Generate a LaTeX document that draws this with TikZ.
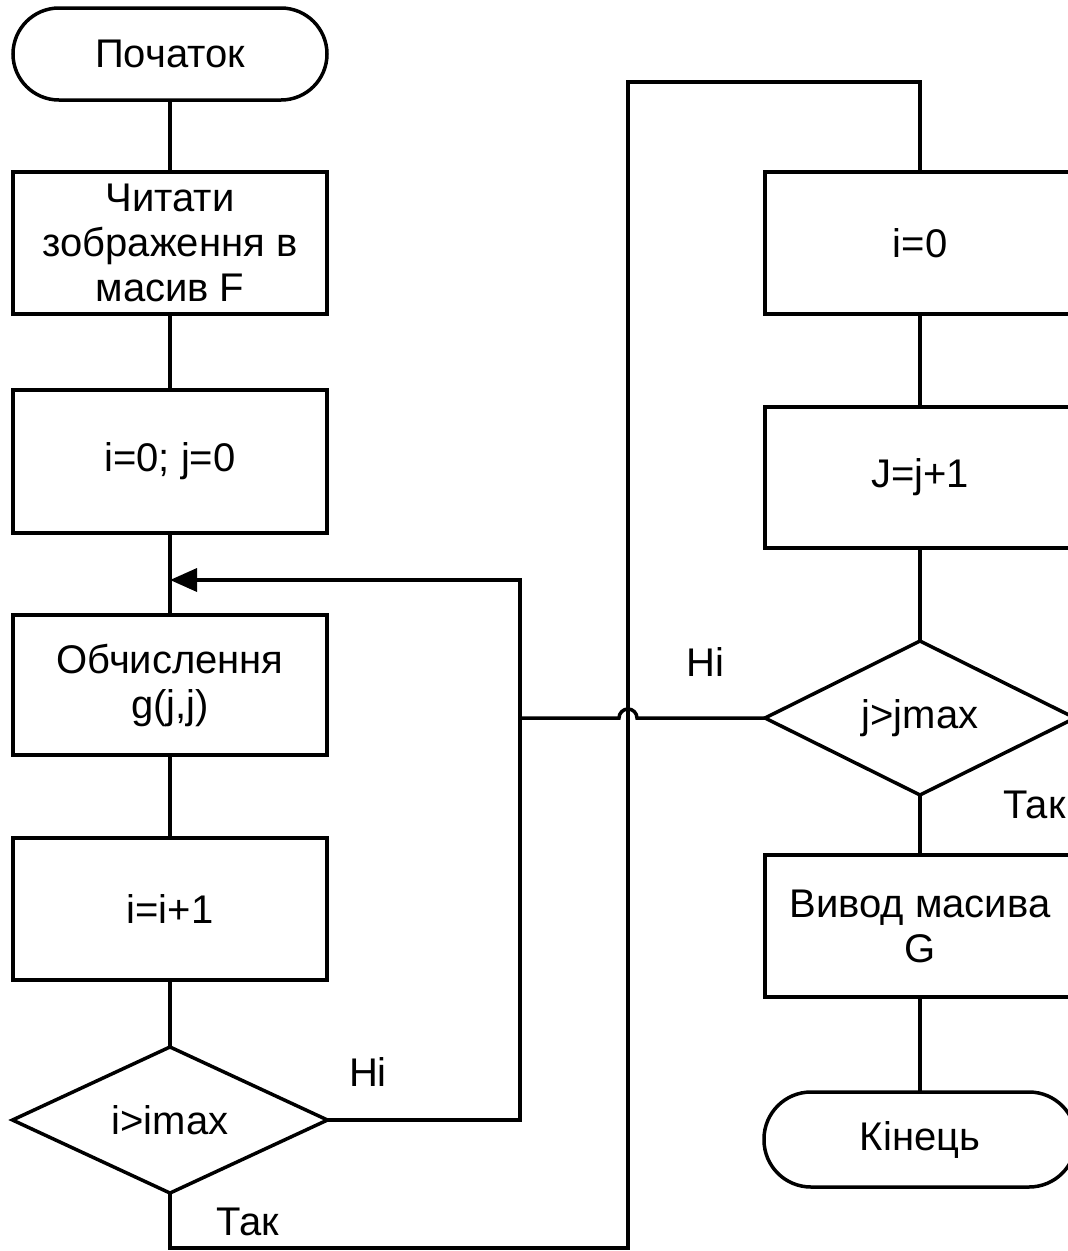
\documentclass[tikz,border=0pt]{standalone}
\usepackage{fontspec}
\setmainfont{Liberation Sans}
\usetikzlibrary{shapes.geometric,arrows.meta}
\tikzset{
  base/.style={draw=black, line width=3.5pt, outer sep=0pt, inner sep=0pt, align=center,
    font=\fontsize{40}{45}\selectfont},
  terminal/.style={base, rectangle, rounded corners=46pt, minimum width=314pt, minimum height=92pt},
  procbox/.style={base, rectangle, minimum width=314pt, minimum height=142pt},
  rprocbox/.style={base, rectangle, minimum width=310pt, minimum height=142pt},
  decision/.style={base, diamond, minimum width=315pt, minimum height=140pt},
  conn/.style={line width=3.5pt, line join=miter},
  arr/.style={conn, -{Triangle[length=27pt,width=23pt]}},
  lbl/.style={font=\fontsize{40}{45}\selectfont, inner sep=0pt}
}
\begin{document}
\begin{tikzpicture}[x=1pt,y=-1pt]
\useasboundingbox (0,0) rectangle (1068,1251);
\clip (0,0) rectangle (1068,1251);
% left column
\node[terminal] (start) at (170,54) {Початок};
\node[procbox] (read) at (170,243) {Читати\\зображення в\\масив F};
\node[procbox, minimum height=143pt] (init) at (170,461.5) {i=0; j=0};
\node[procbox, minimum height=140pt] (calc) at (170,685) {Обчислення\\g(j,j)};
\node[procbox] (inc) at (170,909) {i=i+1};
\node[decision] (dec1) at (170,1120) {i>imax};
% right column
\node[rprocbox] (j0) at (920,243) {i=0};
\node[rprocbox, minimum height=141pt] (jinc) at (920,477.5) {J=j+1};
\node[decision, minimum width=310pt] (dec2) at (920,718) {j>jmax};
\node[rprocbox] (out) at (920,926) {Вивод масива\\G};
\node[terminal, minimum width=312pt, minimum height=95pt, rounded corners=47pt] (fin) at (920,1139.5) {Кінець};
% coordinates
\coordinate (merge) at (170,580);
\coordinate (loopR) at (520,580);
\coordinate (jn) at (520,718);
\coordinate (jumpR) at (637,718);
\coordinate (botL) at (170,1248);
\coordinate (botR) at (628,1248);
\coordinate (topL) at (628,82);
% connectors left
\draw[conn] (start) -- (read);
\draw[conn] (read) -- (init);
\draw[conn] (init) -- (calc);
\draw[conn] (calc) -- (inc);
\draw[conn] (inc) -- (dec1);
\draw[arr] (dec1.east) -| (loopR) -- (merge);
\draw[conn] (dec2.west) -- (jumpR) arc[start angle=0, end angle=180, radius=9pt] -- (jn);
\draw[conn] (dec1.south) -- (botL) -- (botR) -- (topL) -| (j0.north);
% connectors right
\draw[conn] (j0) -- (jinc);
\draw[conn] (jinc) -- (dec2);
\draw[conn] (dec2) -- (out);
\draw[conn] (out) -- (fin);
% labels
\node[lbl] (no1) at (368,1072) {Ні};
\node[lbl] (yes1) at (248,1222) {Так};
\node[lbl] (no2) at (705,662) {Ні};
\node[lbl, anchor=west] (yes2) at (1003,805) {Так};
\end{tikzpicture}
\end{document}
